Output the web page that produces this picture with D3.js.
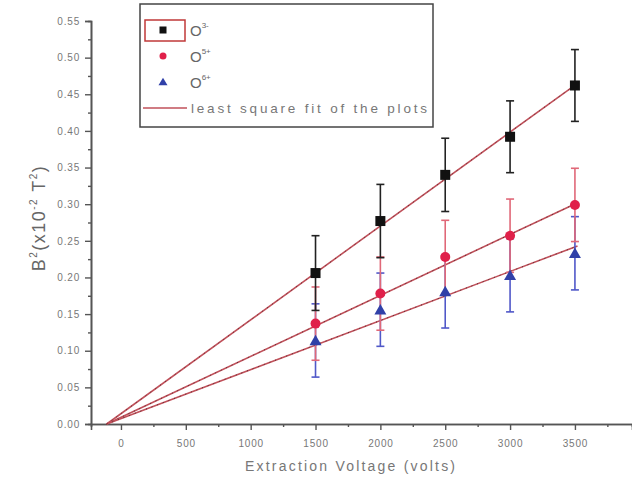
<!DOCTYPE html>
<html>
<head>
<meta charset="utf-8">
<script src="https://cdn.jsdelivr.net/npm/d3@7"></script>
<style>
  body { margin: 0; background: #fff; }
  text { font-family: "Liberation Sans", Arial, sans-serif; }
</style>
</head>
<body>
<script>
// data
var voltages = [1500, 2000, 2500, 3000, 3500];
var o3Values = [0.206, 0.277, 0.340, 0.392, 0.462];
var o5Values = [0.137, 0.178, 0.228, 0.257, 0.299];
var o6Values = [0.114, 0.156, 0.181, 0.203, 0.233];
var o3Errors = [0.051, 0.050, 0.050, 0.049, 0.049];
var o5Errors = [0.050, 0.050, 0.050, 0.050, 0.050];
var o6Errors = [0.050, 0.050, 0.050, 0.050, 0.050];
var fitVoltages = [-110, 3520];
var o3Fit = [0, 0.465];
var o5Fit = [0, 0.302];
var o6Fit = [0, 0.243];
var xTicks = [0, 500, 1000, 1500, 2000, 2500, 3000, 3500];
var yTicks = [0, 0.05, 0.10, 0.15, 0.20, 0.25, 0.30, 0.35, 0.40, 0.45, 0.50, 0.55];
var legendLabels = ["3-", "5+", "6+"];

var W = 632, H = 488;
var svg = d3.select("body").append("svg").attr("width", W).attr("height", H);

var x = d3.scaleLinear().domain([-231, 3940]).range([91, 632]);
var y = d3.scaleLinear().domain([0, 0.55]).range([424, 21]);

var series = [
  {vals: o3Values, errs: o3Errors, fit: o3Fit, fill: "#111", bar: "#222", shape: "square"},
  {vals: o5Values, errs: o5Errors, fit: o5Fit, fill: "#e0204a", bar: "#e06878", shape: "circle"},
  {vals: o6Values, errs: o6Errors, fit: o6Fit, fill: "#3040a8", bar: "#5058c8", shape: "triangle"}
];

// axes
var xAxis = d3.axisBottom(x).tickValues(xTicks).tickSize(6).tickFormat(d3.format("d"));
var xMinor = d3.axisBottom(x).tickValues(d3.range(250, 3900, 500)).tickSize(3).tickFormat("");
var yAxis = d3.axisLeft(y).tickValues(yTicks).tickSize(6).tickFormat(d3.format(".2f"));
var yMinor = d3.axisLeft(y).tickValues(d3.range(0.025, 0.55, 0.05)).tickSize(3).tickFormat("");

function styleAxis(g) {
  g.select(".domain").attr("stroke", "#555").attr("stroke-width", 1.6);
  g.selectAll(".tick line").attr("stroke", "#555").attr("stroke-width", 1.4);
  g.selectAll(".tick text").attr("fill", "#777").style("font-size", "10px").style("letter-spacing", "0.8px");
}

svg.append("g").attr("transform", "translate(0,424)").call(xMinor).call(styleAxis);
svg.append("g").attr("transform", "translate(0,424)").call(xAxis).call(styleAxis)
  .selectAll(".tick text").attr("dy", "1.4em");
svg.append("g").attr("transform", "translate(91,0)").call(yMinor).call(styleAxis);
svg.append("g").attr("transform", "translate(91,0)").call(yAxis).call(styleAxis)
  .selectAll(".tick text").attr("dx", "-0.2em");

// axis titles
svg.append("text").attr("x", 350).attr("y", 471).attr("text-anchor", "middle")
  .attr("fill", "#777").style("font-size", "14px")
  .attr("textLength", 210).attr("lengthAdjust", "spacing")
  .text("Extraction Voltage (volts)");

var yt = svg.append("text").attr("transform", "translate(45,218) rotate(-90)")
  .attr("text-anchor", "middle").attr("fill", "#666").style("font-size", "18px")
  .style("letter-spacing", "1.5px");
yt.append("tspan").text("B");
yt.append("tspan").attr("dy", -8).style("font-size", "10px").text("2");
yt.append("tspan").attr("dy", 8).text("(x10");
yt.append("tspan").attr("dy", -8).style("font-size", "10px").text("-2");
yt.append("tspan").attr("dy", 8).text(" T");
yt.append("tspan").attr("dy", -8).style("font-size", "10px").text("2");
yt.append("tspan").attr("dy", 8).text(")");

// fit lines
var line = d3.line().x(function(d) { return x(d[0]); }).y(function(d) { return y(d[1]); });
series.forEach(function(s) {
  var pts = fitVoltages.map(function(v, i) { return [v, s.fit[i]]; });
  svg.append("path").attr("d", line(pts)).attr("fill", "none")
    .attr("stroke", "#c0505a").attr("stroke-width", 1.6);
  svg.append("path").attr("d", line(pts)).attr("fill", "none")
    .attr("stroke", "#5a2a30").attr("stroke-width", 1).attr("stroke-dasharray", "1,5");
});

// error bars (drawn in reverse so black is on top)
series.slice().reverse().forEach(function(s) {
  var g = svg.append("g").attr("stroke", s.bar).attr("stroke-width", 1.6);
  voltages.forEach(function(v, i) {
    var cx = x(v), top = y(s.vals[i] + s.errs[i]), bot = y(s.vals[i] - s.errs[i]);
    g.append("line").attr("x1", cx).attr("x2", cx).attr("y1", top).attr("y2", bot);
    g.append("line").attr("x1", cx - 4).attr("x2", cx + 4).attr("y1", top).attr("y2", top);
    g.append("line").attr("x1", cx - 4).attr("x2", cx + 4).attr("y1", bot).attr("y2", bot);
  });
});

function marker(g, shape, cx, cy, fill, size) {
  if (shape === "square") {
    g.append("rect").attr("x", cx - size / 2).attr("y", cy - size / 2)
      .attr("width", size).attr("height", size).attr("fill", fill);
  } else if (shape === "circle") {
    g.append("circle").attr("cx", cx).attr("cy", cy).attr("r", size / 2).attr("fill", fill);
  } else {
    var h = size * 0.95;
    g.append("path").attr("d", "M" + cx + "," + (cy - h / 2 - 1) + "L" + (cx + size / 2 + 1) + "," + (cy + h / 2) +
      "L" + (cx - size / 2 - 1) + "," + (cy + h / 2) + "Z").attr("fill", fill);
  }
}

series.forEach(function(s) {
  var g = svg.append("g");
  voltages.forEach(function(v, i) {
    marker(g, s.shape, x(v), y(s.vals[i]), s.fill, 10);
  });
});

// legend
var lg = svg.append("g");
lg.append("rect").attr("x", 140).attr("y", 4).attr("width", 293).attr("height", 123)
  .attr("fill", "#fff").attr("stroke", "#444").attr("stroke-width", 1.5);
lg.append("rect").attr("x", 145).attr("y", 20).attr("width", 40).attr("height", 21)
  .attr("fill", "none").attr("stroke", "#c03838").attr("stroke-width", 1.5);
var rowY = [30, 56, 82, 108];
series.forEach(function(s, i) {
  marker(lg, s.shape, 163, rowY[i], s.fill, 7);
  var t = lg.append("text").attr("x", 190).attr("y", rowY[i] + 6).attr("fill", "#666").style("font-size", "15px");
  t.append("tspan").text("O");
  t.append("tspan").attr("dy", -8).style("font-size", "8px").text(legendLabels[i]);
});
lg.append("line").attr("x1", 143).attr("x2", 187).attr("y1", rowY[3]).attr("y2", rowY[3])
  .attr("stroke", "#c0505a").attr("stroke-width", 1.5);
lg.append("text").attr("x", 191).attr("y", rowY[3] + 5).attr("fill", "#777").style("font-size", "13.5px")
  .attr("textLength", 236).attr("lengthAdjust", "spacing")
  .text("least square fit of the plots");
</script>
</body>
</html>
